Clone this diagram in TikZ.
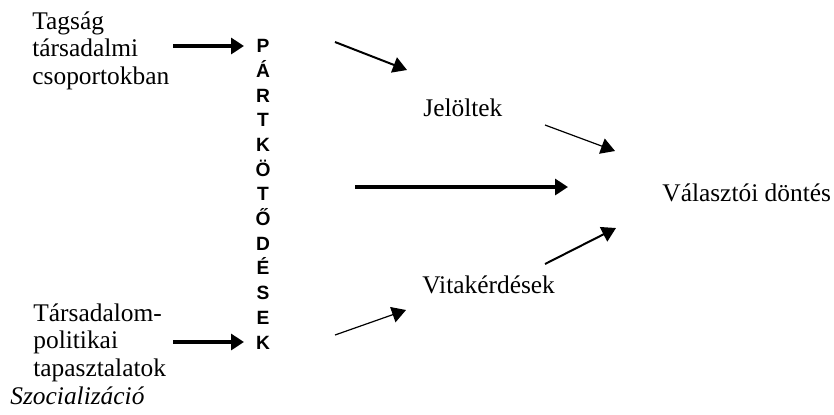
\documentclass[tikz,border=0pt]{standalone}
\usepackage{fontspec}
\setmainfont{Liberation Serif}
\newfontfamily\lsans{Liberation Sans}
\usetikzlibrary{arrows.meta}
\begin{document}
\begin{tikzpicture}[x=0.5pt,y=-0.5pt,
  txt/.style={inner sep=0pt,font=\fontsize{12.7pt}{13.9pt}\selectfont,align=left},
  vert/.style={inner sep=0pt,font=\lsans\bfseries\fontsize{9.6pt}{12.35pt}\selectfont,align=center},
  thickarr/.style={line width=1.6pt,-{Triangle[length=6.5pt,width=8pt]}},
  midarr/.style={line width=1pt,-{Triangle[length=7pt,width=8pt]}},
  thinarr/.style={line width=0.6pt,-{Triangle[length=7pt,width=8pt]}}]
\useasboundingbox (0,0) rectangle (834,414);
\node[txt,anchor=north west] (tag) at (32,11) {Tagság\\társadalmi\\csoportokban};
\node[txt,anchor=north west] (tars) at (33,303) {Társadalom-\\politikai\\tapasztalatok};
\node[txt,anchor=base west,font=\itshape\fontsize{12.7pt}{13.9pt}\selectfont] (szoc) at (10,404) {Szocializáció};
\node[vert,anchor=north] (part) at (263,39) {P\\Á\\R\\T\\K\\Ö\\T\\Ő\\D\\É\\S\\E\\K};
\node[txt,anchor=base west] (jel) at (423,116) {Jelöltek};
\node[txt,anchor=base west] (vita) at (422,293) {Vitakérdések};
\node[txt,anchor=base west] (val) at (662,201) {Választói döntés};
% free-end coordinates
\coordinate (a1s) at (173,46); \coordinate (a1e) at (244,46);
\coordinate (a7s) at (173,342); \coordinate (a7e) at (244,342);
\coordinate (a2s) at (335,42); \coordinate (a2e) at (407,70);
\coordinate (a3s) at (545,125); \coordinate (a3e) at (615,151);
\coordinate (a4s) at (355,187); \coordinate (a4e) at (568,187);
\coordinate (a5s) at (545,264); \coordinate (a5e) at (616,228);
\coordinate (a6s) at (335,335); \coordinate (a6e) at (406,310);
\draw[thickarr] (a1s) -- (a1e);
\draw[thickarr] (a7s) -- (a7e);
\draw[midarr] (a2s) -- (a2e);
\draw[thinarr] (a3s) -- (a3e);
\draw[thickarr] (a4s) -- (a4e);
\draw[midarr] (a5s) -- (a5e);
\draw[thinarr] (a6s) -- (a6e);
\end{tikzpicture}
\end{document}
